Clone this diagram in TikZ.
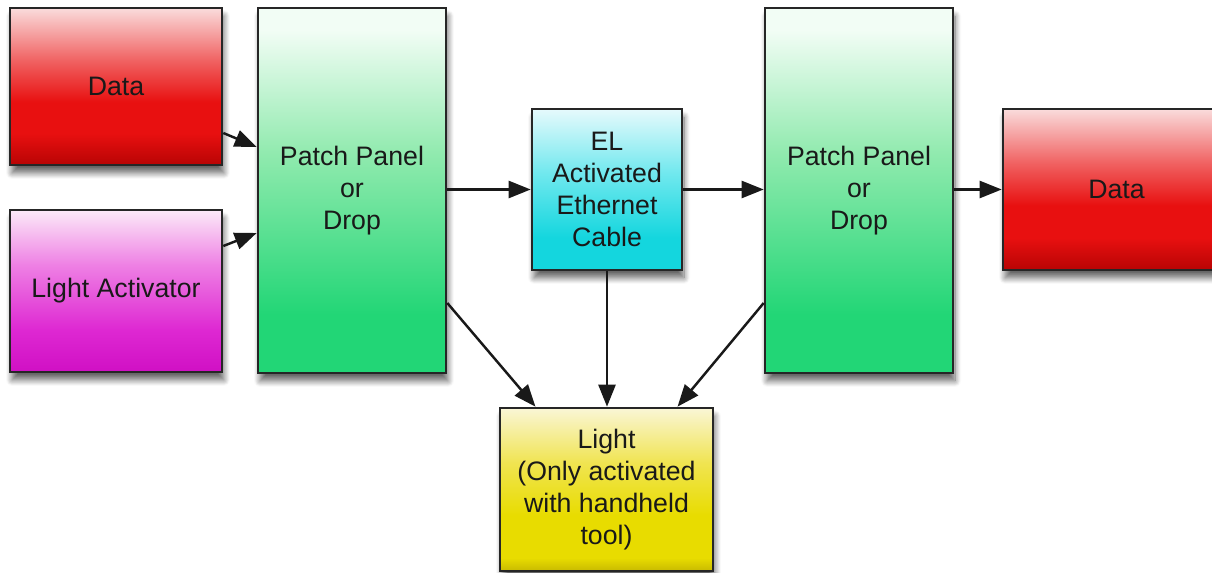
\documentclass[tikz,border=0pt]{standalone}
\usepackage{fontspec}
\setmainfont{Liberation Sans}
\usetikzlibrary{arrows.meta,calc,shadows.blur}
\definecolor{redT}{HTML}{FADCDC}
\definecolor{redM}{HTML}{F06060}
\definecolor{redS}{HTML}{E81010}
\definecolor{redD}{HTML}{B80404}
\definecolor{pinkT}{HTML}{FCEAF8}
\definecolor{pinkM}{HTML}{EE80E4}
\definecolor{pinkS}{HTML}{DE28D2}
\definecolor{pinkD}{HTML}{D010C4}
\definecolor{greenT}{HTML}{F2FDF5}
\definecolor{greenM}{HTML}{90EAAE}
\definecolor{greenD}{HTML}{22D676}
\definecolor{cyanT}{HTML}{E6FAFC}
\definecolor{cyanM}{HTML}{70E8EE}
\definecolor{cyanD}{HTML}{14D6DE}
\definecolor{yelT}{HTML}{FAF6D6}
\definecolor{yelM}{HTML}{F0E450}
\definecolor{yelS}{HTML}{E8DC00}
\definecolor{yelD}{HTML}{C8BA00}
\pgfdeclareverticalshading{redsh}{100bp}{color(0bp)=(redD); color(25bp)=(redD); color(35bp)=(redS); color(45bp)=(redS); color(58bp)=(redM); color(75bp)=(redT); color(100bp)=(redT)}
\pgfdeclareverticalshading{pinksh}{100bp}{color(0bp)=(pinkD); color(25bp)=(pinkD); color(38bp)=(pinkS); color(58bp)=(pinkM); color(75bp)=(pinkT); color(100bp)=(pinkT)}
\pgfdeclareverticalshading{greensh}{100bp}{color(0bp)=(greenD); color(25bp)=(greenD); color(33bp)=(greenD); color(55bp)=(greenM); color(72bp)=(greenT); color(100bp)=(greenT)}
\pgfdeclareverticalshading{cyansh}{100bp}{color(0bp)=(cyanD); color(25bp)=(cyanD); color(35bp)=(cyanD); color(55bp)=(cyanM); color(75bp)=(cyanT); color(100bp)=(cyanT)}
\pgfdeclareverticalshading{yelsh}{100bp}{color(0bp)=(yelD); color(25bp)=(yelD); color(29bp)=(yelS); color(42bp)=(yelS); color(58bp)=(yelM); color(75bp)=(yelT); color(100bp)=(yelT)}
\begin{document}
\begin{tikzpicture}[x=0.02cm,y=-0.02cm,
  box/.style={draw=black!85, line width=1.5pt, align=center, inner sep=0pt,
    font=\fontsize{15.2}{18.2}\selectfont, text=black!90,
    blur shadow={shadow xshift=0.04cm, shadow yshift=-0.16cm, shadow blur steps=10, shadow blur radius=0.12cm, shadow opacity=60}},
  arr/.style={line width=1.4pt, draw=black!90, -{Triangle[length=0.44cm,width=0.34cm]}}]
\useasboundingbox (0,0) rectangle (1212,573);
\clip (0,0) rectangle (1212,573);
\node[box, shading=redsh, minimum width=4.24cm, minimum height=3.14cm] (dataL) at (116,86.5) {Data};
\node[box, shading=pinksh, minimum width=4.24cm, minimum height=3.24cm] (lact) at (116,291) {Light Activator};
\node[box, shading=greensh, minimum width=3.76cm, minimum height=7.3cm] (patchL) at (352,190.5) {Patch Panel\\or\\Drop};
\node[box, shading=cyansh, minimum width=3.0cm, minimum height=3.22cm] (el) at (607,189.5) {EL\\Activated\\Ethernet\\Cable};
\node[box, shading=greensh, minimum width=3.76cm, minimum height=7.3cm] (patchR) at (859,190.5) {Patch Panel\\or\\Drop};
\node[box, shading=redsh, minimum width=4.54cm, minimum height=3.22cm, text width=4.18cm, align=center] (dataR) at (1116.5,189.5) {Data};
\node[box, shading=yelsh, minimum width=4.26cm, minimum height=3.26cm] (light) at (606.5,489.5) {Light\\(Only activated\\with handheld\\tool)};
\draw[arr] ($(dataL.east)+(0,46.5)$) -- ($(patchL.west)+(0,-43.5)$);
\draw[arr] ($(lact.east)+(0,-45)$) -- ($(patchL.west)+(0,42.5)$);
\draw[arr] (el.west -| patchL.east) -- (el.west);
\draw[arr] (el.east) -- (el.east -| patchR.west);
\draw[arr] (dataR.west -| patchR.east) -- (dataR.west);
\draw[arr] ($(patchL.east)+(0,112.5)$) -- ($(light.north)+(-71,0)$);
\draw[arr] (el.south) -- (el.south |- light.north);
\draw[arr] ($(patchR.west)+(0,112.5)$) -- ($(light.north)+(71,0)$);
\end{tikzpicture}
\end{document}
